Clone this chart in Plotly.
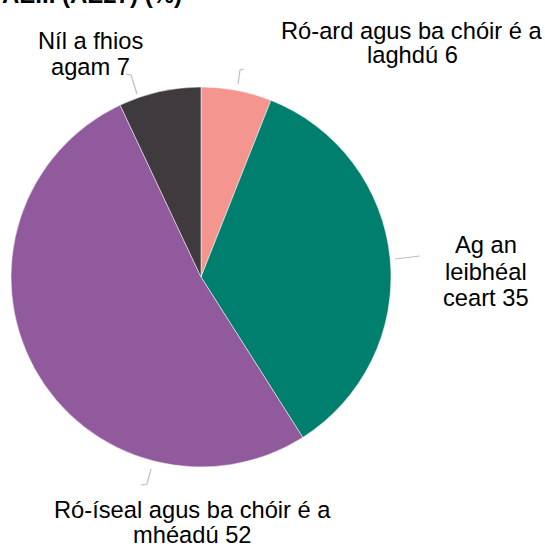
import plotly.graph_objects as go

W, H = 545, 544

categories = ["Ró-ard agus ba chóir é a laghdú", "Ag an leibhéal ceart",
              "Ró-íseal agus ba chóir é a mhéadú", "Níl a fhios agam"]
values = [6, 35, 52, 7]
colors = ["#F4958F", "#007F6E", "#905A9D", "#3E3A3D"]
label_lines = [["Ró-ard agus ba chóir é a", "laghdú 6"],
               ["Ag an", "leibhéal", "ceart 35"],
               ["Ró-íseal agus ba chóir é a", "mhéadú 52"],
               ["Níl a fhios", "agam 7"]]
title_text = "AEIII (AE27) (%)"

def px(x):
    return x / W

def py(y):
    return 1 - y / H

cx, cy, r = 201, 277, 190

fig = go.Figure(go.Pie(
    labels=categories, values=values, sort=False, direction="clockwise",
    rotation=0, marker=dict(colors=colors, line=dict(color="white", width=0.5)),
    textinfo="none", hoverinfo="label+value", showlegend=False,
    domain=dict(x=[px(cx - r), px(cx + r)], y=[py(cy + r), py(cy - r)]),
))

# label placement (pixel centre x, centre y of first line, line spacing)
label_pos = [(412, 31, 24), (486, 245, 26.5), (192, 510, 25), (90, 41, 26)]
annotations = []
for lines, (lx, ly, gap) in zip(label_lines, label_pos):
    for i, t in enumerate(lines):
        annotations.append(dict(
            x=px(lx), y=py(ly + i * gap), xref="paper", yref="paper",
            text=t, showarrow=False, xanchor="center", yanchor="middle",
            font=dict(family="Liberation Sans, Arial", size=23.7, color="#000000")))

annotations.append(dict(
    x=0, y=py(-6), xref="paper", yref="paper", text="<b>" + title_text + "</b>",
    showarrow=False, xanchor="left", yanchor="middle",
    font=dict(family="Liberation Sans, Arial", size=24, color="#000000")))

leaders = [[(238, 84), (240, 70), (244, 69)],
           [(395, 259), (420, 256)],
           [(151, 469), (147, 484), (141, 485)],
           [(137, 94), (131, 75), (126, 74)]]
shapes = []
for pts in leaders:
    path = "M " + " L ".join(f"{px(x)} {py(y)}" for x, y in pts)
    shapes.append(dict(type="path", path=path, xref="paper", yref="paper",
                       line=dict(color="#BFBFBF", width=1.2)))

fig.update_layout(
    width=W, height=H, margin=dict(l=0, r=0, t=0, b=0),
    paper_bgcolor="white", plot_bgcolor="white",
    annotations=annotations, shapes=shapes,
)

fig.write_html("out.html", config={"displayModeBar": False},
               post_script="document.body.style.margin='0';")
